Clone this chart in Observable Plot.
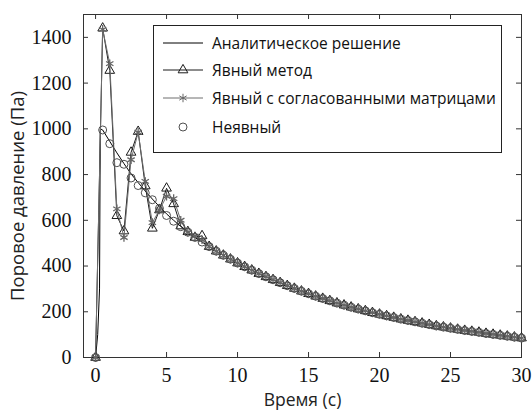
<!DOCTYPE html>
<html><head><meta charset="utf-8">
<script src="https://cdn.jsdelivr.net/npm/d3@7"></script>
<script src="https://cdn.jsdelivr.net/npm/@observablehq/plot@0.6"></script>
<style>
body{margin:0;background:#fff;}
#wrap{position:relative;width:532px;height:410px;}
#legend{position:absolute;left:153px;top:25px;width:347px;height:126px;border:1px solid #222;background:#fff;font-family:"Open Sans";font-size:15.5px;color:#111;}
.row{position:absolute;left:0;height:20px;width:345px;}
.row svg{position:absolute;left:9px;top:0;}
.row span{position:absolute;left:58px;top:0;line-height:20px;white-space:nowrap;}
</style></head><body><div id="wrap"></div>
<script>
// ---- data ----
const xTicks = [0, 5, 10, 15, 20, 25, 30];
const yTicks = [0, 200, 400, 600, 800, 1000, 1200, 1400];
const seriesNames = ["Аналитическое решение", "Явный метод", "Явный с согласованными матрицами", "Неявный"];

// time grid of the numerical methods (step 0.5 s)
const times = d3.range(0, 30.0001, 0.5);

// early part (t = 0 … 8 s) of each numerical series
const explicitEarly   = [0, 1440, 1255, 620, 553, 897, 988, 750, 565, 645, 740, 672, 575, 550, 525, 532, 485];
const consistentEarly = [0, 1435, 1285, 650, 525, 865, 985, 770, 590, 645, 705, 695, 600, 548, 530, 515, 485];
const implicitEarly   = [0, 995, 935, 852, 845, 785, 752, 720, 690, 652, 621, 596, 572, 548, 525, 505, 485];
// t = 8.5 … 30 s, where all curves coincide
const tail = [465, 447, 430, 413, 397, 382, 367, 353, 340, 327, 314, 302, 290, 279, 268, 258, 248, 238, 229, 220,
              212, 204, 196, 189, 182, 175, 168, 162, 156, 150, 144, 138, 133, 128, 123, 118, 114, 110, 105, 101,
              97, 93, 89, 85];

// analytical solution
const analyticTimesEarly = [0, 0.15, 0.28, 0.33, 0.5, 1, 1.5, 2, 2.5, 3, 3.5, 4, 4.5, 5, 5.5, 6, 6.5, 7, 7.5, 8];
const analyticEarly      = [0, 100, 300, 1000, 995, 945, 895, 848, 803, 765, 728, 693, 660, 628, 600, 573, 548, 525, 505, 485];

// ---- tables ----
const mk = (early) => early.concat(tail).map((p, i) => ({t: times[i], p}));
const explicitData = mk(explicitEarly);
const consistentData = mk(consistentEarly);
const implicitData = mk(implicitEarly);
const analyticData = analyticTimesEarly.concat(times.slice(17)).map((t, i) => ({t, p: analyticEarly.concat(tail)[i]}));

const W = 532, H = 410, mL = 83, mR = 11, mT = 14, mB = 53;
const iW = W - mL - mR, iH = H - mT - mB, tk = 5;

const chart = Plot.plot({
  width: W, height: H,
  marginLeft: mL, marginRight: mR, marginTop: mT, marginBottom: mB,
  style: {fontFamily: "Liberation Serif", fontSize: "20px", color: "#111", background: "#fff"},
  x: {domain: [-0.85, 30], label: null},
  y: {domain: [0, 1500], label: null},
  marks: [
    Plot.frame({stroke: "#333"}),
    Plot.tickX(xTicks, {x: d => d, insetTop: iH - tk, stroke: "#333"}),
    Plot.tickX(xTicks, {x: d => d, insetBottom: iH - tk, stroke: "#333"}),
    Plot.tickY(yTicks, {y: d => d, insetRight: iW - tk, stroke: "#333"}),
    Plot.tickY(yTicks, {y: d => d, insetLeft: iW - tk, stroke: "#333"}),
    Plot.axisX(xTicks, {anchor: "bottom", tickSize: 0, tickPadding: 10, label: null, tickFormat: d3.format("d")}),
    Plot.axisY(yTicks, {anchor: "left", tickSize: 0, tickPadding: 12, label: null, tickFormat: d3.format("d")}),
    Plot.text(["Время (с)"], {frameAnchor: "bottom", dy: 48, fontFamily: "Open Sans", fontSize: 17.5, fill: "#222"}),
    Plot.text(["Поровое давление (Па)"], {frameAnchor: "left", dx: -65, dy: 10, rotate: -90, textAnchor: "middle", fontFamily: "Open Sans", fontSize: 18.5, fill: "#222"}),
    Plot.line(analyticData, {x: "t", y: "p", stroke: "#000", strokeWidth: 1}),
    Plot.line(explicitData, {x: "t", y: "p", stroke: "#1a1a1a", strokeWidth: 1}),
    Plot.dot(explicitData, {x: "t", y: "p", symbol: "triangle", r: 3.6, stroke: "#1a1a1a", fill: "none", strokeWidth: 1}),
    Plot.line(consistentData, {x: "t", y: "p", stroke: "#6e6e6e", strokeWidth: 1}),
    Plot.dot(consistentData, {x: "t", y: "p", symbol: "asterisk", r: 4, stroke: "#666", strokeWidth: 1.3}),
    Plot.dot(implicitData, {x: "t", y: "p", symbol: "circle", r: 4, stroke: "#505050", fill: "none", strokeWidth: 1})
  ]
});

const wrap = document.getElementById("wrap");
wrap.appendChild(chart);

// ---- legend ----
const legend = document.createElement("div");
legend.id = "legend";
wrap.appendChild(legend);
const rowsTop = [7, 34, 62, 91];
const glyph = [
  {line: "#000", sym: null},
  {line: "#1a1a1a", sym: d3.symbolTriangle, r: 3.6, stroke: "#1a1a1a"},
  {line: "#6e6e6e", sym: d3.symbolAsterisk, r: 4, stroke: "#666"},
  {line: null, sym: d3.symbolCircle, r: 4, stroke: "#505050"}
];
seriesNames.forEach((name, i) => {
  const row = document.createElement("div");
  row.className = "row";
  row.style.top = rowsTop[i] + "px";
  const g = glyph[i];
  let svg = `<svg width="40" height="20" viewBox="0 0 40 20">`;
  if (g.line) svg += `<line x1="0" y1="10" x2="40" y2="10" stroke="${g.line}" stroke-width="1"/>`;
  if (g.sym) svg += `<path transform="translate(20,10)" d="${d3.symbol(g.sym, g.r * g.r * Math.PI)()}" fill="none" stroke="${g.stroke}" stroke-width="1"/>`;
  svg += `</svg>`;
  row.innerHTML = svg + `<span>${name}</span>`;
  legend.appendChild(row);
});
</script>
</body></html>
